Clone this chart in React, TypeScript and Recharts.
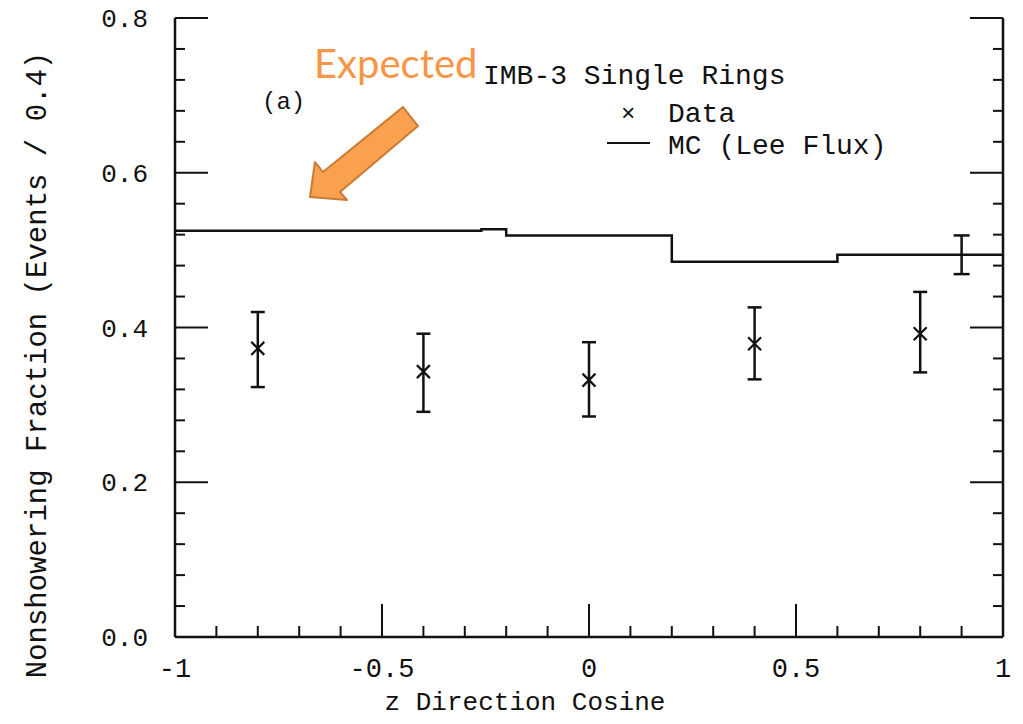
import React from 'react';
import { ComposedChart, Line, Scatter, ErrorBar, XAxis, YAxis } from 'recharts';

// measured points (x marks with asymmetric error bars)
const dataX = [-0.8, -0.4, 0, 0.4, 0.8];
const dataY = [0.373, 0.343, 0.332, 0.379, 0.392];
const dataHi = [0.42, 0.392, 0.381, 0.426, 0.446];
const dataLo = [0.323, 0.291, 0.285, 0.333, 0.342];

// MC histogram (step line), left bin edges + closing edge
const mcEdges = [-1, -0.26, -0.2, 0.2, 0.6, 1];
const mcLevels = [0.525, 0.527, 0.519, 0.485, 0.494, 0.494];

// lone MC error bar near the right edge
const mcErrX = [0.9];
const mcErrY = [0.494];
const mcErrHi = [0.519];
const mcErrLo = [0.469];

const xTicks = [-1, -0.9, -0.8, -0.7, -0.6, -0.5, -0.4, -0.3, -0.2, -0.1, 0, 0.1, 0.2, 0.3, 0.4, 0.5, 0.6, 0.7, 0.8, 0.9, 1];
const xMajor = [-1, -0.5, 0, 0.5, 1];
const xLabels = ['-1', '-0.5', '0', '0.5', '1'];
const yTicks = [0, 0.04, 0.08, 0.12, 0.16, 0.2, 0.24, 0.28, 0.32, 0.36, 0.4, 0.44, 0.48, 0.52, 0.56, 0.6, 0.64, 0.68, 0.72, 0.76, 0.8];
const yMajor = [0, 0.2, 0.4, 0.6, 0.8];
const yLabels = ['0.0', '0.2', '0.4', '0.6', '0.8'];

const MONO = "'Liberation Mono', 'DejaVu Sans Mono', monospace";
const INK = '#111';

const points = dataX.map((x, i) => ({ x, y: dataY[i], err: [dataY[i] - dataLo[i], dataHi[i] - dataY[i]] }));
const mcErr = mcErrX.map((x, i) => ({ x, y: mcErrY[i], err: [mcErrY[i] - mcErrLo[i], mcErrHi[i] - mcErrY[i]] }));
const mcLine = mcEdges.map((x, i) => ({ x, y: mcLevels[i] }));

const majorIdx = (list, v) => list.findIndex((m) => Math.abs(m - v) < 1e-6);

const BottomTick = ({ x, y, payload }) => {
  const k = majorIdx(xMajor, payload.value);
  return (
    <g>
      <line x1={x} x2={x} y1={y} y2={y - (k >= 0 ? 33 : 11)} stroke={INK} strokeWidth={2} />
      {k >= 0 && (
        <text x={x} y={y + 40} textAnchor="middle" fontFamily={MONO} fontSize={27} fill={INK}>
          {xLabels[k]}
        </text>
      )}
    </g>
  );
};

const TopTick = ({ x, y, payload }) => {
  const k = majorIdx(xMajor, payload.value);
  return <line x1={x} x2={x} y1={y} y2={y + (k >= 0 ? 35 : 13)} stroke={INK} strokeWidth={2} />;
};

const LeftTick = ({ x, y, payload }) => {
  const k = majorIdx(yMajor, payload.value);
  return (
    <g>
      <line x1={x} x2={x + (k >= 0 ? 33 : 10)} y1={y} y2={y} stroke={INK} strokeWidth={2} />
      {k >= 0 && (
        <text x={x - 27} y={y + 9} textAnchor="end" fontFamily={MONO} fontSize={26} fill={INK}>
          {yLabels[k]}
        </text>
      )}
    </g>
  );
};

const RightTick = ({ x, y, payload }) => {
  const k = majorIdx(yMajor, payload.value);
  return <line x1={x} x2={x - (k >= 0 ? 33 : 10)} y1={y} y2={y} stroke={INK} strokeWidth={2} />;
};

const Cross = ({ cx, cy }) => {
  if (cx == null || cy == null) return null;
  const s = 6.5;
  return (
    <path d={`M${cx - s},${cy - s}L${cx + s},${cy + s}M${cx - s},${cy + s}L${cx + s},${cy - s}`} stroke={INK} strokeWidth={2.2} fill="none" />
  );
};

const NoMark = () => <g />;

const axisLine = { stroke: INK, strokeWidth: 2.5 };

export default function App() {
  return (
    <div style={{ position: 'absolute', left: 0, top: 0, width: 1023, height: 724, background: '#fff' }}>
      <ComposedChart width={1023} height={724} margin={{ top: 18, right: 19, bottom: 0, left: 0 }}>
        <XAxis
          xAxisId="b" dataKey="x" type="number" domain={[-1, 1]} ticks={xTicks} interval={0}
          height={87} tickSize={0} tickMargin={0} tickLine={false} axisLine={axisLine} tick={<BottomTick />}
        />
        <XAxis
          xAxisId="t" orientation="top" dataKey="x" type="number" domain={[-1, 1]} ticks={xTicks} interval={0}
          height={0} tickSize={0} tickMargin={0} tickLine={false} axisLine={axisLine} tick={<TopTick />}
        />
        <YAxis
          yAxisId="l" type="number" domain={[0, 0.8]} ticks={yTicks} interval={0}
          width={175} tickSize={0} tickMargin={0} tickLine={false} axisLine={axisLine} tick={<LeftTick />}
        />
        <YAxis
          yAxisId="r" orientation="right" type="number" domain={[0, 0.8]} ticks={yTicks} interval={0}
          width={1} tickSize={0} tickMargin={0} tickLine={false} axisLine={axisLine} tick={<RightTick />}
        />
        <Line
          xAxisId="b" yAxisId="l" data={mcLine} dataKey="y" type="stepAfter"
          stroke={INK} strokeWidth={2.5} dot={false} isAnimationActive={false}
        />
        <Line
          xAxisId="t" yAxisId="r" data={mcLine} dataKey="y" type="stepAfter"
          stroke="none" dot={false} isAnimationActive={false}
        />
        <Scatter xAxisId="b" yAxisId="l" data={points} dataKey="y" shape={<Cross />} isAnimationActive={false}>
          <ErrorBar dataKey="err" direction="y" width={7} stroke={INK} strokeWidth={2.5} isAnimationActive={false} />
        </Scatter>
        <Scatter xAxisId="b" yAxisId="l" data={mcErr} dataKey="y" shape={<NoMark />} isAnimationActive={false}>
          <ErrorBar dataKey="err" direction="y" width={8} stroke={INK} strokeWidth={2.5} isAnimationActive={false} />
        </Scatter>
      </ComposedChart>

      <svg width={1023} height={724} style={{ position: 'absolute', left: 0, top: 0, pointerEvents: 'none' }}>
        <text transform="translate(46,365) rotate(-90)" textAnchor="middle" fontFamily={MONO} fontSize={29} fill={INK}>
          Nonshowering Fraction (Events / 0.4)
        </text>
        <text x={525} y={710} textAnchor="middle" fontFamily={MONO} fontSize={26} fill={INK}>
          z Direction Cosine
        </text>
        <text x={262} y={109} fontFamily={MONO} fontSize={24} fill={INK}>(a)</text>
        <text x={483} y={84} fontFamily={MONO} fontSize={28} fill={INK}>IMB-3 Single Rings</text>
        <text x={621} y={121} fontFamily={MONO} fontSize={24} fill={INK}>×</text>
        <text x={668} y={122} fontFamily={MONO} fontSize={28} fill={INK}>Data</text>
        <line x1={607} x2={650} y1={143} y2={143} stroke={INK} strokeWidth={2} />
        <text x={668} y={154} fontFamily={MONO} fontSize={28} fill={INK}>MC (Lee Flux)</text>
        <text x={314} y={78} fontFamily="Lato, 'Open Sans', sans-serif" fontSize={40} fill="#F79646">Expected</text>
        <polygon
          points="310,197 315,162 323,172 403,107 418,126 340,192 347,200"
          fill="#F9A14E" stroke="#C97A35" strokeWidth={2} strokeLinejoin="round"
        />
      </svg>
    </div>
  );
}
